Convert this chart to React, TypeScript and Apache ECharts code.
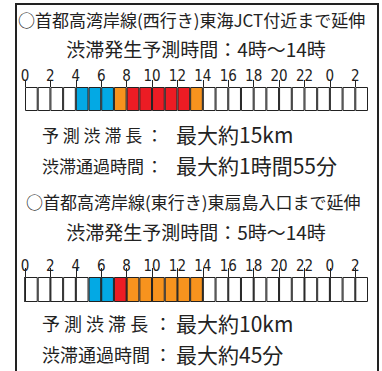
import React, { useEffect, useRef } from 'react';
import * as echarts from 'echarts';

// hour cells (0 .. 26, i.e. 0時 to 翌3時)
const hourCategories = ['0','1','2','3','4','5','6','7','8','9','10','11','12','13','14','15','16','17','18','19','20','21','22','23','24','25','26'];
const tickHours = [0, 2, 4, 6, 8, 10, 12, 14, 16, 18, 20, 22, 24, 26];
const tickLabels = ['0','2','4','6','8','10','12','14','16','18','20','22','0','2'];

// congestion level per hour: 0 none, 1 blue, 2 orange, 3 red
const westLevels = [0,0,0,0,1,1,1,2,3,3,3,3,3,2,0,0,0,0,0,0,0,0,0,0,0,0,0];
const eastLevels = [0,0,0,0,0,1,1,3,2,2,2,2,2,2,0,0,0,0,0,0,0,0,0,0,0,0,0];
const levelColors = ['#ffffff', '#03a9e4', '#f7931e', '#ec1c24'];

const westTitle = '○首都高湾岸線(西行き)東海JCT付近まで延伸';
const westTime = '渋滞発生予測時間：4時〜14時';
const westLength = '最大約15km';
const westPass = '最大約1時間55分';
const eastTitle = '○首都高湾岸線(東行き)東扇島入口まで延伸';
const eastTime = '渋滞発生予測時間：5時〜14時';
const eastLength = '最大約10km';
const eastPass = '最大約45分';
const lengthLabel = '予 測 渋 滞 長';
const passLabel = '渋滞通過時間';

const JP = '"Noto Sans CJK JP", sans-serif';
const INK = '#222';

function text(t: string, x: number, y: number, size: number, align = 'left') {
  return {
    type: 'text',
    x,
    y,
    silent: true,
    style: {
      text: t,
      fill: INK,
      fontSize: size,
      lineHeight: size,
      fontFamily: JP,
      align,
      verticalAlign: 'middle',
    },
  };
}

export default function App() {
  const ref = useRef<HTMLDivElement>(null);
  useEffect(() => {
    if (!ref.current) return;
    const chart = echarts.init(ref.current, undefined, { renderer: 'svg' });
    const cells = (levels: number[]) =>
      levels.map((l) => ({ value: 1, itemStyle: { color: levelColors[l] } }));
    const labelAxis = (gridIndex: number, tickLen: number) => ({
      gridIndex,
      type: 'value',
      min: 0,
      max: 27,
      position: 'top',
      axisLine: { show: false, onZero: false },
      splitLine: { show: false },
      axisTick: {
        show: true,
        customValues: tickHours,
        length: tickLen,
        lineStyle: { color: INK, width: 1 },
      },
      axisLabel: {
        customValues: tickHours,
        formatter: (v: number) => tickLabels[tickHours.indexOf(v)] ?? '',
        margin: 4,
        fontSize: 15,
        fontFamily: '"Liberation Sans Narrow", "DejaVu Sans Condensed", "Liberation Sans", sans-serif',
        color: INK,
      },
    });
    chart.setOption({
      animation: false,
      backgroundColor: '#ffffff',
      grid: [
        { left: 25, top: 87, width: 343, height: 24 },
        { left: 25, top: 277, width: 343, height: 25 },
      ],
      xAxis: [
        { gridIndex: 0, type: 'category', data: hourCategories, show: false },
        { gridIndex: 1, type: 'category', data: hourCategories, show: false },
        labelAxis(0, 7),
        labelAxis(1, 9),
        {
          gridIndex: 1,
          type: 'value',
          min: 0,
          max: 27,
          position: 'top',
          axisLine: { show: false, onZero: false },
          splitLine: { show: false },
          axisLabel: { show: false },
          axisTick: {
            show: true,
            inside: true,
            customValues: tickHours,
            length: 25,
            lineStyle: { color: '#111', width: 1.6 },
          },
        },
      ],
      yAxis: [
        { gridIndex: 0, type: 'value', min: 0, max: 1, show: false },
        { gridIndex: 1, type: 'value', min: 0, max: 1, show: false },
      ],
      series: [
        {
          type: 'bar',
          xAxisIndex: 0,
          yAxisIndex: 0,
          barCategoryGap: 0,
          data: cells(westLevels),
          itemStyle: { borderColor: INK, borderWidth: 1 },
        },
        {
          type: 'bar',
          xAxisIndex: 1,
          yAxisIndex: 1,
          barCategoryGap: 0,
          data: cells(eastLevels),
          itemStyle: { borderColor: INK, borderWidth: 1 },
          z: 1,
        },
      ],
      graphic: [
        {
          type: 'rect',
          silent: true,
          shape: { x: 16, y: 4, width: 362, height: 400 },
          style: { fill: 'none', stroke: INK, lineWidth: 2 },
        },
        text(westTitle, 18, 19, 17),
        text(westTime, 196, 48, 19, 'center'),
        text(lengthLabel, 42, 134, 17),
        text('：', 146, 134, 17),
        text(westLength, 176, 134, 21),
        text(passLabel, 42, 165, 17),
        text('：', 146, 165, 17),
        text(westPass, 176, 165, 21),
        text(eastTitle, 26, 201, 17),
        text(eastTime, 196, 231, 19, 'center'),
        text(lengthLabel, 42, 323, 18),
        text('：', 154, 323, 18),
        text(eastLength, 176, 323, 21),
        text(passLabel, 42, 354, 18),
        text('：', 154, 354, 18),
        text(eastPass, 176, 354, 21),
      ],
    });
    return () => chart.dispose();
  }, []);
  return (
    <div
      ref={ref}
      style={{ position: 'fixed', left: 0, top: 0, width: 382, height: 371 }}
    />
  );
}
